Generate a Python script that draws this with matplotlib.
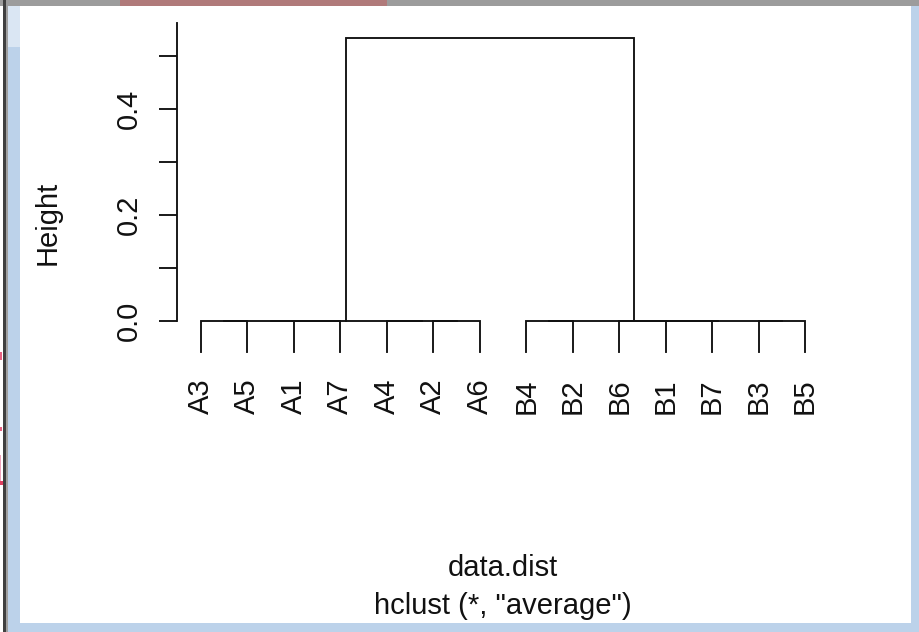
import matplotlib.pyplot as plt
from matplotlib.patches import Rectangle

# hclust(data.dist, "average") -- merges as (height, left, right)
top_height = 0.5345
tree_a = (0.0, (0.0, (0.0, "A3", "A5"), (0.0, "A1", "A7")),
          (0.0, "A4", (0.0, "A2", "A6")))
tree_b = (0.0, (0.0, "B4", "B2"),
          (0.0, (0.0, "B6", (0.0, "B1", "B7")), (0.0, "B3", "B5")))
tree = (top_height, tree_a, tree_b)

y_ticks = [0.0, 0.1, 0.2, 0.3, 0.4, 0.5]
y_ticklabels = ["0.0", "", "0.2", "", "0.4", ""]

W, H = 920, 632
FS = 21
LW = 1.35
plt.rcParams['font.family'] = ['Liberation Sans', 'DejaVu Sans']

fig = plt.figure(figsize=(W / 100, H / 100), dpi=100)


def px(x0, y0, x1, y1):
    # pixel box (top-left origin) -> figure fraction rect
    return [x0 / W, 1 - y1 / H, (x1 - x0) / W, (y1 - y0) / H]


ax = fig.add_axes(px(176.8, 23, 829.2, 423))
hang = 0.11 * top_height
leaves = []


def draw(node, parent_h):
    # returns x position and top y of the node, draws its branches
    if isinstance(node, str):
        leaves.append(node)
        x = len(leaves)
        return x, parent_h - hang
    h, left, right = node
    x1, y1 = draw(left, h)
    x2, y2 = draw(right, h)
    ax.plot([x1, x1, x2, x2], [y1, h, h, y2], color='#111111', lw=LW,
            solid_capstyle='projecting', solid_joinstyle='miter')
    return (x1 + x2) / 2, h


draw(tree, top_height)

for i, lab in enumerate(leaves):
    ax.annotate(lab, xy=(i + 1, -hang), xytext=(0, -26),
                textcoords='offset pixels', rotation=90,
                ha='center', va='top', fontsize=FS, color='#111111')

n = len(leaves)
pad = 0.04 * (n - 1)
ax.set_xlim(1 - pad, n + pad)
ax.set_ylim(-0.193, 0.5633)
ax.set_xticks([])
ax.set_yticks(y_ticks)
ax.set_yticklabels(y_ticklabels, rotation=90, va='center', fontsize=FS,
                   color='#111111')
ax.tick_params(axis='y', direction='out', length=13.2, width=LW, pad=11,
               color='#111111')
for s in ['top', 'right', 'bottom']:
    ax.spines[s].set_visible(False)
ax.spines['left'].set_linewidth(LW)
ax.spines['left'].set_color('#111111')
ax.spines['left'].set_bounds(0, 0.5633)
ax.patch.set_visible(False)

fig.text(48 / W, 1 - 223 / H, "Height", rotation=90, ha='center',
         va='center', fontsize=FS, color='#111111')
fig.text(503 / W, 1 - 576 / H, "data.dist", ha='center', va='baseline',
         fontsize=FS, color='#111111')
fig.text(503 / W, 1 - 614 / H, 'hclust (*, "average")', ha='center',
         va='baseline', fontsize=FS, color='#111111')

# window frame of the screenshot
frame = [
    ((0, 0, 920, 6), '#9c9c9c'),
    ((120, 0, 387, 6), '#b07a7a'),
    ((3, 0, 6, 632), '#404040'),
    ((6, 6, 8, 632), '#a0a0a0'),
    ((8, 6, 20, 632), '#bcd2ea'),
    ((8, 6, 20, 47), '#dae6f3'),
    ((911.5, 6, 920, 632), '#bcd2ea'),
    ((8, 623, 920, 632), '#bcd2ea'),
    ((0, 352, 2, 360), '#e86080'),
    ((0, 427, 2, 431), '#e86080'),
    ((0, 455, 1, 483), '#f0a0b8'),
    ((0, 481, 3, 485), '#e04060'),
]
for (x0, y0, x1, y1), c in frame:
    r = px(x0, y0, x1, y1)
    fig.add_artist(Rectangle((r[0], r[1]), r[2], r[3], transform=fig.transFigure,
                             facecolor=c, edgecolor='none', zorder=5))

fig.savefig('out.png', dpi=100)
